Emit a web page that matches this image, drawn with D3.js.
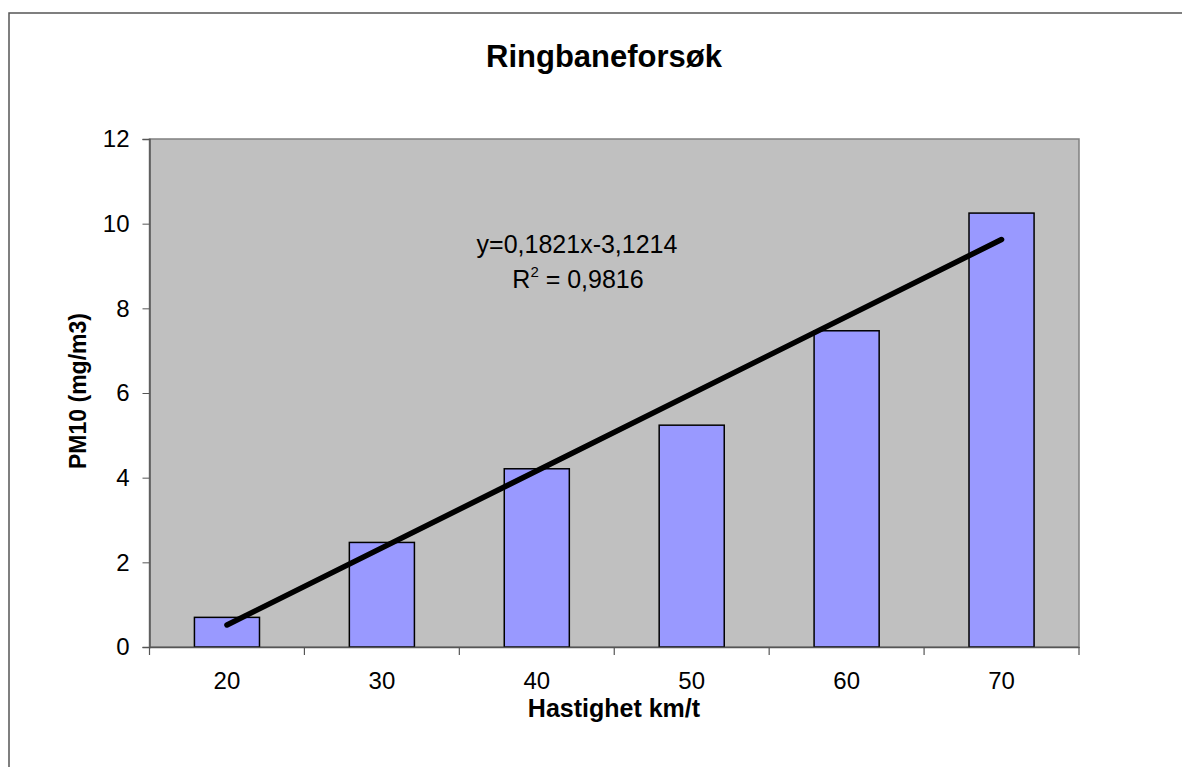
<!DOCTYPE html>
<html>
<head>
<meta charset="utf-8">
<script src="https://cdn.jsdelivr.net/npm/d3@7"></script>
<style>
  body { margin: 0; background: #fff; }
  text { font-family: Arial, "Liberation Sans", sans-serif; }
</style>
</head>
<body>
<div id="chart"></div>
<script>
// data
var speeds = [20, 30, 40, 50, 60, 70];
var pm10 = [0.7, 2.47, 4.21, 5.24, 7.47, 10.25];
var yTicks = [0, 2, 4, 6, 8, 10, 12];
var trendSlope = 0.1821, trendIntercept = -3.1214;

var width = 1182,
    height = 767;
var margin = {left: 149.5, right: 1079, top: 139, bottom: 647};
var fontFam = "Arial, 'Liberation Sans', sans-serif";

var svg = d3.select("#chart")
  .append("svg")
    .attr("width", width)
    .attr("height", height);

// outer chart border
svg.append("rect")
  .attr("x", 9).attr("y", 13)
  .attr("width", 1200).attr("height", 800)
  .attr("fill", "#fff")
  .attr("stroke", "#555")
  .attr("stroke-width", 1.5);

var x = d3.scaleBand()
  .domain(speeds)
  .range([margin.left, margin.right])
  .paddingInner(0.58)
  .paddingOuter(0.29);

var y = d3.scaleLinear()
  .domain([0, 12])
  .range([margin.bottom, margin.top]);

// plot area
svg.append("rect")
  .attr("x", margin.left).attr("y", margin.top)
  .attr("width", margin.right - margin.left)
  .attr("height", margin.bottom - margin.top)
  .attr("fill", "#c0c0c0")
  .attr("stroke", "#808080")
  .attr("stroke-width", 1.5);

// bars
svg.selectAll(".bar")
  .data(speeds)
  .enter().append("rect")
    .attr("class", "bar")
    .attr("x", function(d) { return x(d); })
    .attr("y", function(d, i) { return y(pm10[i]); })
    .attr("width", x.bandwidth())
    .attr("height", function(d, i) { return y(0) - y(pm10[i]); })
    .attr("fill", "#9999ff")
    .attr("stroke", "#000")
    .attr("stroke-width", 1.5);

// linear trendline through bar centres
var trend = d3.line()
  .x(function(d) { return x(d) + x.bandwidth() / 2; })
  .y(function(d) { return y(trendSlope * d + trendIntercept); });

svg.append("path")
  .datum([speeds[0], speeds[speeds.length - 1]])
  .attr("d", trend)
  .attr("fill", "none")
  .attr("stroke", "#000")
  .attr("stroke-width", 5.5)
  .attr("stroke-linecap", "round");

// y axis
var yAxis = svg.append("g")
  .attr("transform", "translate(" + margin.left + ",0)")
  .call(d3.axisLeft(y).tickValues(yTicks).tickSize(7).tickPadding(13));
yAxis.select(".domain").attr("stroke", "#555").attr("stroke-width", 1.5);
yAxis.selectAll(".tick line").attr("stroke", "#555");
yAxis.selectAll("text").attr("font-size", 24).attr("fill", "#000")
  .attr("font-family", fontFam);

// x axis: ticks between categories
var xAxis = svg.append("g")
  .attr("transform", "translate(0," + margin.bottom + ")")
  .call(d3.axisBottom(x).tickSize(0).tickPadding(25));
xAxis.select(".domain").attr("stroke", "#555").attr("stroke-width", 1.5);
xAxis.selectAll("text").attr("font-size", 24).attr("fill", "#000")
  .attr("font-family", fontFam);

var bounds = d3.range(speeds.length + 1).map(function(i) {
  return margin.left + i * (margin.right - margin.left) / speeds.length;
});
svg.selectAll(".xtick")
  .data(bounds)
  .enter().append("line")
    .attr("x1", function(d) { return d; })
    .attr("x2", function(d) { return d; })
    .attr("y1", margin.bottom)
    .attr("y2", margin.bottom + 8)
    .attr("stroke", "#555")
    .attr("stroke-width", 1.2);

// title
svg.append("text")
  .attr("x", 604).attr("y", 67)
  .attr("text-anchor", "middle")
  .attr("font-size", 31)
  .attr("font-weight", "bold")
  .text("Ringbaneforsøk");

// axis labels
svg.append("text")
  .attr("x", 614).attr("y", 717)
  .attr("text-anchor", "middle")
  .attr("font-size", 25)
  .attr("font-weight", "bold")
  .text("Hastighet km/t");

svg.append("text")
  .attr("transform", "translate(86,391) rotate(-90)")
  .attr("text-anchor", "middle")
  .attr("font-size", 23)
  .attr("font-weight", "bold")
  .text("PM10 (mg/m3)");

// trendline label
svg.append("text")
  .attr("x", 577).attr("y", 253)
  .attr("text-anchor", "middle")
  .attr("font-size", 25)
  .text("y=0,1821x-3,1214");

var r2 = svg.append("text")
  .attr("x", 578).attr("y", 288)
  .attr("text-anchor", "middle")
  .attr("font-size", 25);
r2.append("tspan").text("R");
r2.append("tspan").attr("font-size", 15).attr("dy", -11).text("2");
r2.append("tspan").attr("dy", 11).text(" = 0,9816");
</script>
</body>
</html>
